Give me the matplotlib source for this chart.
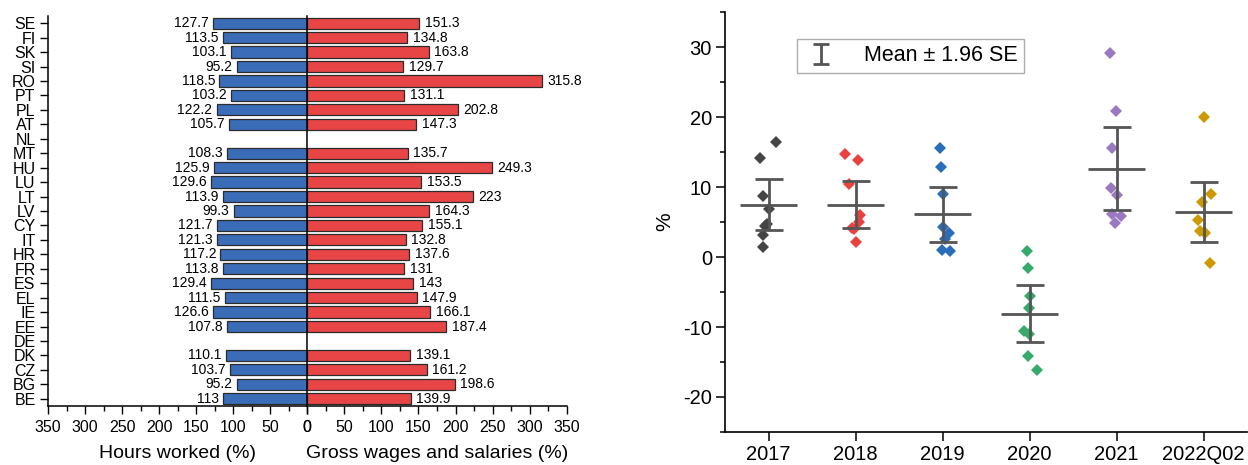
import numpy as np
import matplotlib
matplotlib.use("Agg")
import matplotlib.pyplot as plt
from matplotlib.ticker import MultipleLocator
from matplotlib.lines import Line2D
from matplotlib.path import Path

plt.rcParams['font.family'] = ['Liberation Sans', 'DejaVu Sans']
plt.rcParams['axes.unicode_minus'] = False

# left panel data (bottom to top)
countries = ["BE", "BG", "CZ", "DK", "DE", "EE", "IE", "EL", "ES", "FR", "HR", "IT", "CY",
             "LV", "LT", "LU", "HU", "MT", "NL", "AT", "PL", "PT", "RO", "SI", "SK", "FI", "SE"]
hours = [113, 95.2, 103.7, 110.1, np.nan, 107.8, 126.6, 111.5, 129.4, 113.8, 117.2, 121.3, 121.7,
         99.3, 113.9, 129.6, 125.9, 108.3, np.nan, 105.7, 122.2, 103.2, 118.5, 95.2, 103.1, 113.5, 127.7]
wages = [139.9, 198.6, 161.2, 139.1, np.nan, 187.4, 166.1, 147.9, 143, 131, 137.6, 132.8, 155.1,
         164.3, 223, 153.5, 249.3, 135.7, np.nan, 147.3, 202.8, 131.1, 315.8, 129.7, 163.8, 134.8, 151.3]

# right panel data
years = ["2017", "2018", "2019", "2020", "2021", "2022Q02"]
vals_2017 = [16.5, 14.1, 8.7, 6.9, 4.7, 4.4, 3.1, 1.5]
vals_2018 = [14.7, 13.9, 10.4, 6.0, 5.0, 4.1, 4.0, 2.1]
vals_2019 = [15.6, 12.9, 9.0, 4.3, 3.5, 2.6, 1.0, 0.9]
vals_2020 = [0.8, -1.5, -5.6, -7.3, -10.6, -11.0, -14.1, -16.1]
vals_2021 = [29.1, 20.8, 15.6, 9.9, 8.8, 6.2, 5.9, 4.8]
vals_2022 = [20.0, 9.0, 7.8, 5.3, 3.7, 3.4, 3.6, -0.8]
# horizontal spread of the points
jit_2017 = [0.08, -0.10, -0.06, 0.01, -0.02, -0.04, -0.07, -0.07]
jit_2018 = [-0.12, 0.03, -0.08, 0.05, 0.04, -0.04, -0.02, 0.0]
jit_2019 = [-0.03, -0.02, 0.0, 0.0, 0.07, 0.03, -0.01, 0.08]
jit_2020 = [-0.03, -0.02, 0.0, -0.01, -0.07, -0.01, -0.02, 0.08]
jit_2021 = [-0.08, -0.01, -0.05, -0.07, 0.0, -0.05, 0.05, -0.02]
jit_2022 = [0.01, 0.09, -0.02, -0.06, -0.04, 0.02, 0.0, 0.07]
means = [7.5, 7.5, 6.1, -8.1, 12.6, 6.4]
ci = [3.67, 3.4, 3.95, 4.05, 5.95, 4.25]

groups = [vals_2017, vals_2018, vals_2019, vals_2020, vals_2021, vals_2022]
jitters = [jit_2017, jit_2018, jit_2019, jit_2020, jit_2021, jit_2022]
colors = ["#454545", "#e94040", "#2a6ebb", "#35aa6a", "#9b79c0", "#cc9900"]

fig = plt.figure(figsize=(12.48, 4.65), dpi=100)

axL = fig.add_axes([0.0385, 0.127, 0.2075, 0.8387])
axR = fig.add_axes([0.246, 0.127, 0.2083, 0.8387], sharey=axL)

y = np.arange(len(countries))
h = np.array(hours, dtype=float)
w = np.array(wages, dtype=float)
mh = ~np.isnan(h)
mw = ~np.isnan(w)

axL.barh(y[mh], h[mh], height=0.78, color="#3a6cb8", edgecolor="#2b2b2b", linewidth=0.9)
axR.barh(y[mw], w[mw], height=0.78, color="#e84646", edgecolor="#2b2b2b", linewidth=0.9)
for yy, v in zip(y[mh], h[mh]):
    axL.annotate(f"{v:g}", (v, yy), xytext=(-3, 0), textcoords='offset points',
                 ha='right', va='center', fontsize=10)
for yy, v in zip(y[mw], w[mw]):
    axR.annotate(f"{v:g}", (v, yy), xytext=(4, 0), textcoords='offset points',
                 ha='left', va='center', fontsize=10)

axL.set_xlim(350, 0)
axR.set_xlim(0, 350)
axL.set_ylim(-0.5, len(countries) - 0.5)
axL.set_yticks(y)
axL.set_yticklabels(countries, fontsize=11.5)
for ax in (axL, axR):
    ax.set_xticks(np.arange(0, 351, 50))
    ax.xaxis.set_minor_locator(MultipleLocator(25))
    ax.tick_params(axis='x', which='major', length=6, width=1, labelsize=11.5, pad=4)
    ax.tick_params(axis='x', which='minor', length=3.5, width=1)
    ax.spines['top'].set_visible(False)
    ax.spines['bottom'].set_linewidth(1.1)
axL.spines['right'].set_visible(False)
axL.spines['left'].set_linewidth(1.1)
axL.tick_params(axis='y', length=6, width=1, pad=3)
axR.spines['right'].set_visible(False)
axR.spines['left'].set_linewidth(1.1)
axR.tick_params(axis='y', left=False, labelleft=False)
axL.set_xlabel("Hours worked (%)", fontsize=14, labelpad=7)
axR.set_xlabel("Gross wages and salaries (%)", fontsize=14, labelpad=7)

# right panel
ax = fig.add_axes([0.581, 0.071, 0.4183, 0.903])
xpos = np.arange(1, len(years) + 1)
for i, (vals, jit) in enumerate(zip(groups, jitters)):
    ax.plot(xpos[i] + np.array(jit), vals, linestyle='none', marker='D', markersize=6.5,
            color=colors[i], markeredgewidth=0, zorder=2)
ax.errorbar(xpos, means, yerr=ci, fmt='none', ecolor="#555555", elinewidth=2,
            capsize=10.3, capthick=2, zorder=3)
ax.hlines(means, xpos - 0.33, xpos + 0.33, color="#555555", linewidth=2, zorder=3)

ax.set_xlim(0.5, 6.5)
ax.set_ylim(-25, 35)
ax.set_xticks(xpos)
ax.set_xticklabels(years)
ax.set_yticks([-20, -10, 0, 10, 20, 30])
ax.yaxis.set_minor_locator(MultipleLocator(5))
ax.tick_params(axis='both', which='major', length=6.5, width=1.1, labelsize=14.5)
ax.tick_params(axis='y', which='major', pad=3)
ax.tick_params(axis='x', which='major', pad=3)
ax.tick_params(axis='y', which='minor', length=3.5, width=1.1)
ax.spines['top'].set_visible(False)
ax.spines['right'].set_visible(False)
ax.spines['left'].set_linewidth(1.2)
ax.spines['bottom'].set_linewidth(1.2)
ax.set_ylabel("%", fontsize=15, labelpad=6)

# legend symbol: an "I" shaped error bar
ibar = Path([(-0.74, 1), (0.74, 1), (0, 1), (0, -1), (-0.74, -1), (0.74, -1)],
            [Path.MOVETO, Path.LINETO, Path.MOVETO, Path.LINETO, Path.MOVETO, Path.LINETO])
handle = Line2D([], [], linestyle='none', marker=ibar, markersize=15, markerfacecolor='none',
                markeredgecolor="#555555", markeredgewidth=2)
leg = ax.legend([handle], ["Mean \u00b1 1.96 SE"], loc='upper left', bbox_to_anchor=(0.138, 0.936),
                fontsize=15.5, frameon=True, fancybox=False, edgecolor="#999999", borderaxespad=0,
                handlelength=1.6, borderpad=0.3, handletextpad=1.2)
leg.get_frame().set_linewidth(1)

fig.savefig("out.png", dpi=100)
